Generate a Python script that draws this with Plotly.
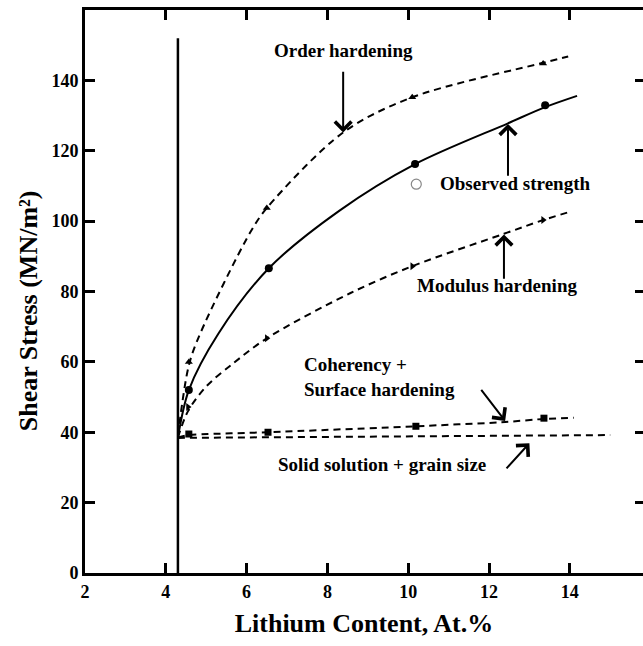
import plotly.graph_objects as go

# ---- data ----
boundary_x = [4.3, 4.3]
boundary_y = [0, 152]

# observed strength (solid curve + filled circles)
obs_curve_x = [4.3, 4.57, 5.3, 6.55, 8.3, 10.17, 12.47, 13.39, 14.18]
obs_curve_y = [38.5, 52, 68, 86.6, 103, 116.2, 127.8, 132.4, 135.6]
obs_pts_x = [4.57, 6.55, 10.17, 13.39]
obs_pts_y = [52, 86.6, 116.2, 132.9]

# order hardening (dashed + triangles up)
ord_curve_x = [4.3, 4.57, 4.85, 6.08, 6.5, 8.39, 10.1, 13.34, 13.96]
ord_curve_y = [39, 59, 68, 96.6, 103.7, 125.2, 135.2, 145.0, 146.8]
ord_pts_x = [4.57, 6.5, 10.1, 13.34]
ord_pts_y = [60, 103.7, 135.2, 144.8]

# modulus hardening (dashed + triangles right)
mod_curve_x = [4.3, 4.55, 5.0, 5.66, 6.5, 8.56, 10.1, 12.37, 13.34, 13.96]
mod_curve_y = [38.5, 46, 53, 59.5, 66.7, 79.5, 87.2, 96.4, 100.3, 102.5]
mod_pts_x = [4.55, 6.5, 10.1, 13.34]
mod_pts_y = [47.2, 66.7, 87.2, 100.3]

# coherency + surface hardening (dashed + squares)
coh_curve_x = [4.3, 4.57, 6.53, 10.19, 12.4, 13.36, 14.1]
coh_curve_y = [38.5, 39.2, 40.0, 41.7, 42.9, 43.8, 44.1]
coh_pts_x = [4.57, 6.53, 10.19, 13.36]
coh_pts_y = [39.5, 40.0, 41.7, 44.0]

# solid solution + grain size (dashed)
ss_x = [4.3, 15.0]
ss_y = [38.4, 39.2]

# open circle next to the "Observed strength" label
open_circle_x = [10.2]
open_circle_y = [110.5]

x_ticks = [2, 4, 6, 8, 10, 12, 14, 16]
x_tick_text = ["2", "4", "6", "8", "10", "12", "14", ""]
y_ticks = [0, 20, 40, 60, 80, 100, 120, 140]

FONT = "Liberation Serif"
DASH = "7px,5px"

fig = go.Figure()

fig.add_trace(go.Scatter(x=boundary_x, y=boundary_y, mode="lines",
                         line=dict(color="black", width=2.5), hoverinfo="skip"))

fig.add_trace(go.Scatter(x=obs_curve_x, y=obs_curve_y, mode="lines",
                         line=dict(color="black", width=2, shape="spline", smoothing=0.9)))
fig.add_trace(go.Scatter(x=obs_pts_x, y=obs_pts_y, mode="markers",
                         marker=dict(symbol="circle", size=8, color="black")))

fig.add_trace(go.Scatter(x=ord_curve_x, y=ord_curve_y, mode="lines",
                         line=dict(color="black", width=2, dash=DASH, shape="spline", smoothing=0.9)))
fig.add_trace(go.Scatter(x=ord_pts_x, y=ord_pts_y, mode="markers",
                         marker=dict(symbol="triangle-up", size=7, color="black")))

fig.add_trace(go.Scatter(x=mod_curve_x, y=mod_curve_y, mode="lines",
                         line=dict(color="black", width=2, dash=DASH, shape="spline", smoothing=0.9)))
fig.add_trace(go.Scatter(x=mod_pts_x, y=mod_pts_y, mode="markers",
                         marker=dict(symbol="triangle-right", size=7, color="black")))

fig.add_trace(go.Scatter(x=coh_curve_x, y=coh_curve_y, mode="lines",
                         line=dict(color="black", width=2, dash=DASH, shape="spline", smoothing=0.6)))
fig.add_trace(go.Scatter(x=coh_pts_x, y=coh_pts_y, mode="markers",
                         marker=dict(symbol="square", size=7, color="black")))

fig.add_trace(go.Scatter(x=ss_x, y=ss_y, mode="lines",
                         line=dict(color="black", width=2, dash=DASH)))

fig.add_trace(go.Scatter(x=open_circle_x, y=open_circle_y, mode="markers",
                         marker=dict(symbol="circle-open", size=10, color="#888888",
                                     line=dict(width=1.2))))

# helper trace to carry the right-hand tick axis
fig.add_trace(go.Scatter(x=[2], y=[0], yaxis="y2", mode="markers",
                         marker=dict(opacity=0), hoverinfo="skip"))

afont = dict(family=FONT, size=19, color="black", weight="bold")

labels = [
    dict(x=8.39, y=148.5, text="Order hardening", xanchor="center"),
    dict(x=12.64, y=110.8, text="Observed strength", xanchor="center"),
    dict(x=12.2, y=81.8, text="Modulus hardening", xanchor="center"),
    dict(x=7.37, y=55.6, text="Coherency +<br>Surface hardening", xanchor="left", align="left"),
    dict(x=9.36, y=30.7, text="Solid solution + grain size", xanchor="center"),
]
for lb in labels:
    fig.add_annotation(x=lb["x"], y=lb["y"], text=lb["text"], xanchor=lb["xanchor"],
                       align=lb.get("align", "center"), yanchor="middle",
                       showarrow=False, font=afont, bgcolor="rgba(0,0,0,0)")

arrows = [
    ((8.39, 142.9), (8.39, 125.2)),
    ((12.47, 112.5), (12.47, 127.6)),
    ((12.37, 83.2), (12.37, 96.2)),
    ((11.78, 52.5), (12.4, 43.2)),
    ((12.4, 29.3), (13.0, 36.9)),
]
for (sx, sy), (tx, ty) in arrows:
    fig.add_annotation(x=tx, y=ty, ax=sx, ay=sy, xref="x", yref="y", axref="x", ayref="y",
                       text="", showarrow=True, arrowhead=4, arrowsize=1.6,
                       arrowwidth=2, arrowcolor="black")

fig.add_annotation(x=-0.102, y=0.465, xref="paper", yref="paper",
                   xanchor="center", yanchor="middle",
                   text="Shear Stress (MN/m²)", textangle=-90, showarrow=False,
                   font=dict(family=FONT, size=26, color="black", weight="bold"))

tickfont = dict(family=FONT, size=18, color="black", weight="bold")

fig.update_layout(
    width=643, height=646,
    margin=dict(l=85, r=0, t=10, b=73),
    paper_bgcolor="white", plot_bgcolor="white",
    showlegend=False,
    xaxis=dict(range=[2, 2 + 558 / 40.4], tickvals=x_ticks, ticktext=x_tick_text,
               ticks="inside", ticklen=10, tickwidth=2.5, tickcolor="black",
               showline=True, linewidth=3, linecolor="black", mirror="ticks",
               showgrid=False, zeroline=False, tickfont=tickfont,
               title=dict(text="Lithium Content, At.%", standoff=14,
                          font=dict(family=FONT, size=26, color="black", weight="bold"))),
    yaxis=dict(range=[0, 160], tickvals=y_ticks, ticks="inside", ticklen=10,
               tickwidth=2.5, tickcolor="black", showline=True, linewidth=3,
               linecolor="black", mirror=False, showgrid=False, zeroline=False,
               tickfont=tickfont),
    yaxis2=dict(range=[0, 160], tickvals=y_ticks, overlaying="y", side="right",
                ticks="inside", ticklen=8, tickwidth=2.5, tickcolor="black",
                showline=False, showgrid=False, zeroline=False, showticklabels=False),
)

fig.write_html("out.html", config={"displayModeBar": False},
               post_script="document.body.style.margin='0px';document.body.style.overflow='hidden';")
